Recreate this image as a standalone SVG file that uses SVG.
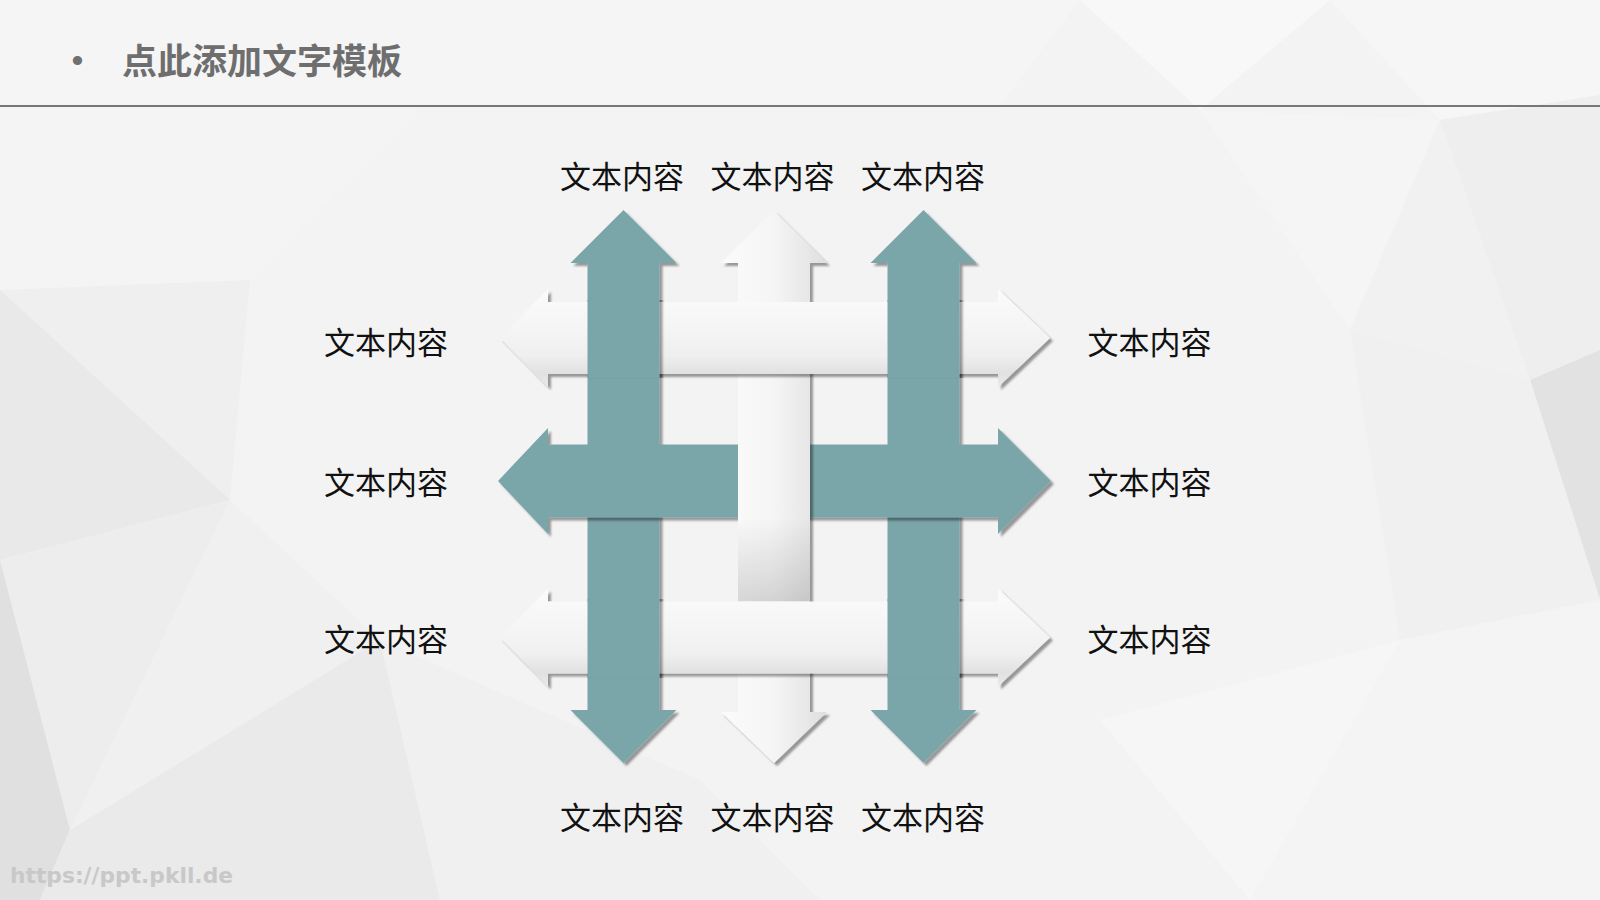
<svg xmlns="http://www.w3.org/2000/svg" width="1600" height="900" viewBox="0 0 1600 900">
<defs>
<style>
.lbl{font-family:"Noto Sans CJK SC","Noto Sans",sans-serif;font-size:31px;fill:#111;text-anchor:middle}
.teal{fill:#7aa5a9}
.bg{stroke:none}
</style>
<filter id="sh" x="-20%" y="-20%" width="140%" height="140%">
<feDropShadow dx="3" dy="3" stdDeviation="0.8" flood-color="#000" flood-opacity="0.38"/>
</filter>
<linearGradient id="gh" x1="0" y1="0" x2="0" y2="1">
<stop offset="0" stop-color="#fbfbfb"/>
<stop offset="0.4" stop-color="#f5f5f5"/>
<stop offset="0.68" stop-color="#efefef"/>
<stop offset="0.86" stop-color="#e1e1e1"/>
<stop offset="1" stop-color="#eaeaea"/>
</linearGradient>
<linearGradient id="gv" x1="0" y1="0" x2="1" y2="0">
<stop offset="0" stop-color="#fbfbfb"/>
<stop offset="0.5" stop-color="#f5f5f5"/>
<stop offset="0.8" stop-color="#e8e8e8"/>
<stop offset="1" stop-color="#dedede"/>
</linearGradient>
<linearGradient id="gdark" x1="0" y1="0" x2="0" y2="1">
<stop offset="0" stop-color="#000" stop-opacity="0"/>
<stop offset="1" stop-color="#000" stop-opacity="0.14"/>
</linearGradient>
<clipPath id="bands">
<rect x="0" y="300" width="1600" height="78"/>
<rect x="0" y="599" width="1600" height="79"/>
</clipPath>
</defs>

<g id="background">
<rect class="bg" x="0" y="0" width="1600" height="900" fill="#f3f3f3"/>
<polygon class="bg" points="0,0 1080,0 1000,105 0,105" fill="#f5f5f5"/>
<polygon class="bg" points="1080,0 1330,0 1200,110" fill="#f8f8f8"/>
<polygon class="bg" points="1330,0 1600,0 1600,95 1440,120" fill="#f6f6f6"/>
<polygon class="bg" points="0,105 420,105 250,280 0,290" fill="#f4f4f4"/>
<polygon class="bg" points="0,290 250,280 230,500" fill="#efefef"/>
<polygon class="bg" points="0,290 230,500 0,560" fill="#e9e9e9"/>
<polygon class="bg" points="0,560 230,500 70,830" fill="#ededed"/>
<polygon class="bg" points="0,560 70,830 40,900 0,900" fill="#e0e0e0"/>
<polygon class="bg" points="70,830 230,500 380,640" fill="#f0f0f0"/>
<polygon class="bg" points="40,900 70,830 380,640 440,900" fill="#eaeaea"/>
<polygon class="bg" points="1200,110 1440,120 1350,330" fill="#f5f5f5"/>
<polygon class="bg" points="1440,120 1600,95 1600,350 1530,380" fill="#eeeeee"/>
<polygon class="bg" points="1350,330 1440,120 1530,380" fill="#f1f1f1"/>
<polygon class="bg" points="1530,380 1600,350 1600,600" fill="#e2e2e2"/>
<polygon class="bg" points="1350,330 1530,380 1600,600 1400,640" fill="#f0f0f0"/>
<polygon class="bg" points="1250,900 1400,640 1600,600 1600,900" fill="#f4f4f4"/>
<polygon class="bg" points="1100,720 1400,640 1250,900" fill="#f6f6f6"/>
<polygon class="bg" points="440,900 380,640 700,780 820,900" fill="#f0f0f0"/>
</g>

<g id="header">
<text x="77.5" y="72" font-family="Liberation Sans, sans-serif" font-size="34" fill="#707070" text-anchor="middle">•</text>
<text x="122" y="74" font-family="Noto Sans CJK SC, sans-serif" font-size="35" font-weight="700" fill="#6e6e6e">点此添加文字模板</text>
<line x1="0" y1="106" x2="1600" y2="106" stroke="#777" stroke-width="2"/>
</g>

<g id="connectors">
<g id="teal-v-left-base" filter="url(#sh)">
<polygon class="teal" points="587.5,263 570.5,263 623.5,210 676.5,263 659.5,263 659.5,710 676.5,710 623.5,763 570.5,710 587.5,710"/>
</g>
<g id="teal-v-right-base" filter="url(#sh)">
<polygon class="teal" points="887.5,263 870.5,263 923.5,210 976.5,263 959.5,263 959.5,710 976.5,710 923.5,763 870.5,710 887.5,710"/>
</g>
<g id="teal-h" filter="url(#sh)">
<polygon class="teal" points="548,444.5 548,428 498,481 548,534 548,517.5 998,517.5 998,534 1051,481 998,428 998,444.5"/>
</g>
<g id="white-v" filter="url(#sh)">
<polygon fill="url(#gv)" points="738,263 721,263 774,211 827,263 810,263 810,712 827,712 774,763 721,712 738,712"/>
</g>
<rect x="738" y="517.5" width="72" height="84" fill="url(#gdark)"/>
<g id="white-h-top" filter="url(#sh)">
<polygon fill="url(#gh)" points="548,302 548,289 500,338 548,387 548,374 998,374 998,387 1050,338 998,289 998,302"/>
</g>
<g id="white-h-bottom" filter="url(#sh)">
<polygon fill="url(#gh)" points="548,601.5 548,588.5 500,637.5 548,686.5 548,673.5 998,673.5 998,686.5 1050,637.5 998,588.5 998,601.5"/>
</g>
<g clip-path="url(#bands)">
<g filter="url(#sh)">
<rect class="teal" x="587.5" y="270" width="72" height="440"/>
</g>
<g filter="url(#sh)">
<rect class="teal" x="887.5" y="270" width="72" height="440"/>
</g>
</g>
</g>

<g id="labels-top">
<text class="lbl" x="622" y="188">文本内容</text>
<text class="lbl" x="772.5" y="188">文本内容</text>
<text class="lbl" x="923" y="188">文本内容</text>
</g>
<g id="labels-bottom">
<text class="lbl" x="622" y="829">文本内容</text>
<text class="lbl" x="772.5" y="829">文本内容</text>
<text class="lbl" x="923" y="829">文本内容</text>
</g>
<g id="labels-left">
<text class="lbl" x="386" y="353.5">文本内容</text>
<text class="lbl" x="386" y="494">文本内容</text>
<text class="lbl" x="386" y="650.5">文本内容</text>
</g>
<g id="labels-right">
<text class="lbl" x="1149.5" y="353.5">文本内容</text>
<text class="lbl" x="1149.5" y="494">文本内容</text>
<text class="lbl" x="1149.5" y="650.5">文本内容</text>
</g>

<g id="watermark">
<text x="10" y="883" font-family="DejaVu Sans, sans-serif" font-size="22" font-weight="700" fill="#c8c8c8" textLength="223" lengthAdjust="spacingAndGlyphs">https://ppt.pkll.de</text>
</g>
</svg>
